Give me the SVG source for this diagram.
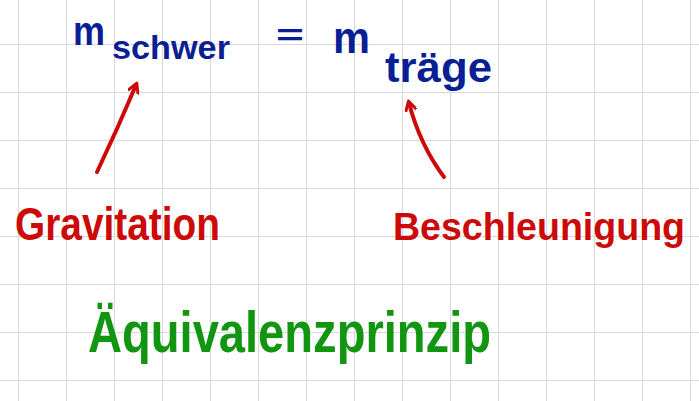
<svg xmlns="http://www.w3.org/2000/svg" width="699" height="401" viewBox="0 0 699 401">
<defs>
<pattern id="grid" x="18" y="44" width="48" height="48" patternUnits="userSpaceOnUse">
<path d="M0 0V48M0 0H48" fill="none" stroke="#d9d9d9" stroke-width="2"/>
</pattern>
<marker id="head" viewBox="0 0 12 12" refX="8" refY="6" markerWidth="12" markerHeight="12" markerUnits="userSpaceOnUse" orient="auto">
<path d="M1 1L10 6L1 11" fill="none" stroke="#cc0a0a" stroke-width="3" stroke-linecap="round" stroke-linejoin="round"/>
</marker>
</defs>
<style>
text{font-family:"Liberation Sans","DejaVu Sans",sans-serif;font-weight:700}
.blue{fill:#0a1f94}
.red{fill:#cc0a0a}
.green{fill:#129612}
.arrow{fill:none;stroke:#cc0a0a;stroke-width:4;stroke-linecap:round}
</style>
<rect width="699" height="401" fill="#ffffff"/>
<rect width="699" height="401" fill="url(#grid)"/>
<g id="m-schwer">
<text class="blue" x="73" y="45" font-size="40" textLength="32" lengthAdjust="spacingAndGlyphs">m</text>
<text class="blue" x="112" y="59" font-size="34" textLength="118" lengthAdjust="spacingAndGlyphs">schwer</text>
</g>
<g id="equals">
<text class="blue" x="276" y="45" font-size="30" textLength="28" lengthAdjust="spacingAndGlyphs">=</text>
</g>
<g id="m-traege">
<text class="blue" x="333" y="53" font-size="44" textLength="37" lengthAdjust="spacingAndGlyphs">m</text>
<text class="blue" x="385" y="82" font-size="42" textLength="107" lengthAdjust="spacingAndGlyphs">träge</text>
</g>
<g id="gravitation">
<text class="red" x="15" y="240" font-size="46" textLength="205" lengthAdjust="spacingAndGlyphs">Gravitation</text>
</g>
<g id="beschleunigung">
<text class="red" x="393" y="240" font-size="38" textLength="292" lengthAdjust="spacingAndGlyphs">Beschleunigung</text>
</g>
<g id="aequivalenzprinzip">
<text class="green" x="88" y="352" font-size="58" textLength="403" lengthAdjust="spacingAndGlyphs">Äquivalenzprinzip</text>
</g>
<g id="connectors">
<path class="arrow" d="M97 172Q118 128 136 85" marker-end="url(#head)"/>
<path class="arrow" d="M444 177Q420 145 409 103" marker-end="url(#head)"/>
</g>
</svg>
